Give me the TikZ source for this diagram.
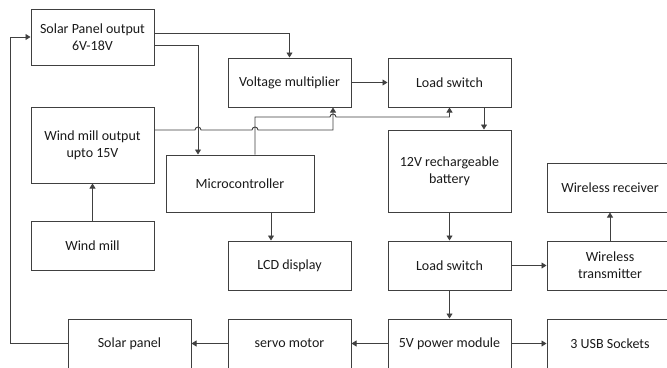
\documentclass[tikz,border=0pt]{standalone}
\usepackage{fontspec}
\setmainfont{Carlito}
\usetikzlibrary{arrows.meta}
\definecolor{ln}{HTML}{404040}
\definecolor{tx}{HTML}{1A1A1A}
\begin{document}
\begin{tikzpicture}[x=1pt,y=-1pt,
  blk/.style={draw=ln,line width=1pt,minimum width=123pt,minimum height=49pt,inner sep=0pt,
    align=center,text=tx,font=\fontsize{14}{17}\selectfont},
  arr/.style={draw=ln,line width=0.9pt,-{Triangle[length=5pt,width=6pt]}},
  wire/.style={draw=ln,line width=0.9pt}]
\useasboundingbox (0,0) rectangle (667,367);
\clip (0,0) rectangle (667,367);
\fill[white] (0,0) rectangle (667,367);
\node[blk,minimum height=56pt] (spo) at (92.5,37) {Solar Panel output\\6V-18V};
\node[blk] (vm) at (289.5,82.5) {Voltage multiplier};
\node[blk] (ls1) at (449.5,82.5) {Load switch};
\node[blk,minimum height=76pt] (wmo) at (92.5,145) {Wind mill output\\upto 15V};
\node[blk,minimum width=148pt,minimum height=57pt] (mc) at (240,183.5) {Microcontroller};
\node[blk,minimum height=82pt] (bat) at (449.5,171) {12V rechargeable\\battery};
\node[blk,minimum width=126pt] (wr) at (610,187.5) {Wireless receiver};
\node[blk] (wm) at (92.5,245.5) {Wind mill};
\node[blk] (lcd) at (289.5,265.5) {LCD display};
\node[blk] (ls2) at (449.5,265.5) {Load switch};
\node[blk,minimum width=126pt] (wt) at (610,265.5) {Wireless\\transmitter};
\node[blk] (pm5) at (449.5,343.5) {5V power module};
\node[blk,minimum width=126pt] (usb) at (610,343.5) {3 USB Sockets};
\node[blk] (servo) at (289.5,343.5) {servo motor};
\node[blk] (sp) at (129.5,343.5) {Solar panel};
\coordinate (lft) at (10,37);
% feedback from solar panel
\draw[arr] (sp.west) -| (lft) -- (spo.west);
% solar output
\draw[arr] ([yshift=4pt]spo.east) -| (vm.north);
\draw[arr] ([yshift=-8pt]spo.east) -| ([xshift=-42pt]mc.north);
% wind mill output with hops
\draw[arr] ([yshift=15pt]wmo.east) -- (195,130) arc[start angle=180,end angle=0,radius=3pt]
  -- (252,130) arc[start angle=180,end angle=0,radius=3pt] -- (333,130) -- ([xshift=43.5pt]vm.south);
% microcontroller control line
\draw[arr] ([xshift=15pt]mc.north) |- (330,117) arc[start angle=180,end angle=0,radius=3pt]
  -| (ls1.south);
\draw[arr] (vm.east) -- (ls1.west);
\draw[arr] ([xshift=34.5pt]ls1.south) -- ([xshift=34.5pt]ls1.south |- bat.north);
\draw[arr] (bat.south) -- (ls2.north);
\draw[arr] (ls2.east) -- (wt.west);
\draw[arr] (wt.north) -- (wr.south);
\draw[arr] (ls2.south) -- (pm5.north);
\draw[arr] (pm5.east) -- (usb.west);
\draw[arr] (pm5.west) -- (servo.east);
\draw[arr] (servo.west) -- (sp.east);
\draw[arr] (wm.north) -- (wmo.south);
\draw[arr] ([xshift=31pt]mc.south) -- ([xshift=31pt]mc.south |- lcd.north);
\end{tikzpicture}
\end{document}
